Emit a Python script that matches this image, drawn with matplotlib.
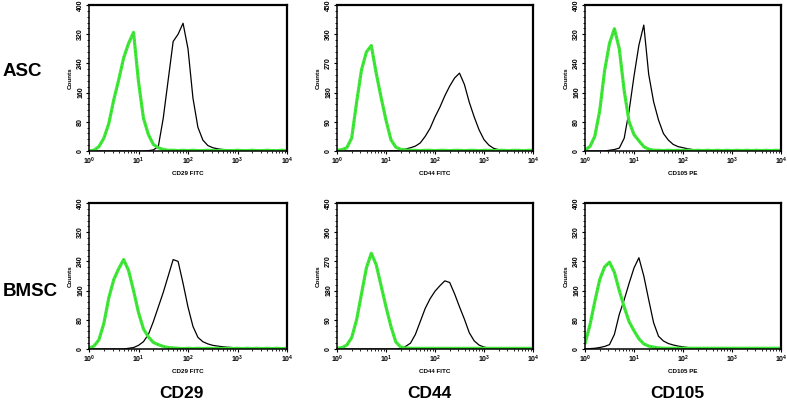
import matplotlib as mpl
mpl.use('Agg')
import matplotlib.pyplot as plt
import numpy as np
from matplotlib.ticker import AutoMinorLocator, LogLocator, NullFormatter

plt.rcParams['font.family'] = ['Liberation Sans', 'DejaVu Sans']

# bin grid, log10 of fluorescence (10^0 .. 10^4)
log_bins = np.round(np.arange(0, 4.01, 0.1), 1)

rows = ['ASC', 'BMSC']
markers = ['CD29', 'CD44', 'CD105']
xlabels = ['CD29 FITC', 'CD44 FITC', 'CD105 PE']
ymax = [400, 450, 400]
ystep = [80, 90, 80]

# isotype control (green) and stained (black) counts
asc_cd29_iso = [0, 2, 12, 35, 75, 140, 195, 255, 295, 325, 190, 90, 45, 18, 9, 4, 2, 2, 1, 2, 1,
                2, 1, 1, 2, 1, 1, 2, 1, 1, 2, 1, 1, 2, 1, 1, 2, 1, 1, 2, 1]
asc_cd29 = [0, 0, 0, 0, 0, 0, 0, 0, 0, 0, 0, 0, 1, 3, 12, 90, 195, 300, 320, 350, 280,
            145, 65, 30, 15, 9, 6, 4, 3, 2, 1, 2, 1, 1, 2, 1, 1, 2, 1, 1, 1]
asc_cd44_iso = [2, 4, 10, 40, 150, 250, 305, 325, 240, 165, 95, 35, 12, 5, 3, 2, 2, 1, 2, 2, 1,
                2, 2, 1, 2, 2, 1, 2, 2, 1, 2, 2, 1, 2, 2, 1, 2, 2, 1, 2, 2]
asc_cd44 = [0, 0, 0, 0, 0, 0, 0, 0, 0, 0, 0, 1, 1, 2, 6, 10, 15, 25, 45, 70, 105,
            135, 170, 200, 225, 240, 205, 150, 105, 65, 35, 18, 8, 4, 2, 1, 1, 1, 1, 1, 1]
asc_cd105_iso = [3, 12, 40, 110, 220, 295, 335, 280, 165, 80, 45, 28, 12, 5, 2, 2, 1, 2, 1, 2, 1,
                 2, 1, 2, 1, 2, 1, 2, 1, 2, 1, 2, 1, 2, 1, 2, 1, 2, 1, 2, 1]
asc_cd105 = [0, 0, 0, 0, 0, 2, 4, 8, 35, 110, 205, 290, 345, 210, 135, 85, 48, 30, 18, 12, 9,
             6, 4, 3, 2, 1, 1, 1, 1, 1, 1, 1, 1, 1, 1, 1, 1, 1, 1, 1, 1]

bmsc_cd29_iso = [2, 8, 25, 70, 140, 190, 220, 245, 215, 160, 100, 55, 33, 18, 12, 7, 4, 3, 2, 1, 2,
                 1, 2, 1, 2, 1, 2, 1, 2, 1, 2, 1, 2, 1, 2, 1, 2, 1, 2, 1, 2]
bmsc_cd29 = [0, 0, 0, 0, 0, 0, 0, 0, 2, 4, 10, 20, 40, 75, 115, 155, 200, 245, 240, 180, 115,
             62, 32, 20, 14, 10, 8, 6, 5, 4, 3, 2, 2, 2, 2, 2, 2, 2, 2, 2, 2]
bmsc_cd44_iso = [2, 4, 12, 35, 90, 170, 250, 295, 260, 195, 130, 70, 22, 6, 3, 2, 2, 2, 2, 2, 2,
                 2, 2, 2, 2, 2, 2, 2, 2, 2, 2, 2, 2, 2, 2, 2, 2, 2, 2, 2, 2]
bmsc_cd44 = [0, 0, 0, 0, 0, 0, 0, 0, 0, 0, 0, 0, 0, 2, 8, 18, 45, 85, 125, 155, 178,
             195, 210, 205, 170, 130, 92, 50, 25, 12, 6, 3, 1, 1, 1, 1, 1, 1, 1, 1, 1]
bmsc_cd105_iso = [15, 65, 130, 190, 225, 238, 210, 160, 115, 75, 50, 28, 14, 8, 5, 3, 2, 2, 2, 2, 2,
                  2, 2, 2, 2, 2, 2, 2, 2, 2, 2, 2, 2, 2, 2, 2, 2, 2, 2, 2, 2]
bmsc_cd105 = [0, 1, 2, 4, 7, 12, 40, 95, 135, 180, 222, 250, 200, 135, 72, 35, 22, 15, 11, 8, 6,
              4, 3, 3, 2, 1, 1, 1, 1, 1, 1, 1, 1, 1, 1, 1, 1, 1, 1, 1, 1]

iso_data = [[asc_cd29_iso, asc_cd44_iso, asc_cd105_iso],
            [bmsc_cd29_iso, bmsc_cd44_iso, bmsc_cd105_iso]]
stain_data = [[asc_cd29, asc_cd44, asc_cd105],
              [bmsc_cd29, bmsc_cd44, bmsc_cd105]]

GREEN = '#3ee836'


def draw_panel(ax, iso, stain, col):
    x = 10 ** log_bins
    ax.plot(x, stain, color='black', lw=0.9)
    ax.plot(x, iso, color=GREEN, lw=2.3, solid_capstyle='round')
    # the black isotype trace shows through in specks
    ax.plot(x, iso, color='#333333', lw=0.45, dashes=(1, 5), alpha=0.55)

    ax.set_xscale('log')
    ax.set_xlim(1, 1e4)
    ax.set_ylim(0, ymax[col])
    ax.set_yticks(np.arange(0, ymax[col] + 1, ystep[col]))
    ax.yaxis.set_minor_locator(AutoMinorLocator(5))
    ax.xaxis.set_major_locator(LogLocator(base=10, numticks=6))
    ax.xaxis.set_minor_locator(LogLocator(base=10, subs=np.arange(2, 10), numticks=20))
    ax.xaxis.set_minor_formatter(NullFormatter())

    ax.tick_params(which='major', direction='out', length=2.5, width=0.8, labelsize=5, pad=1)
    ax.tick_params(which='minor', direction='out', length=1.3, width=0.6)
    for lab in ax.get_yticklabels():
        lab.set_rotation(90)
        lab.set_va('center')
        lab.set_fontweight('bold')
    for lab in ax.get_xticklabels():
        lab.set_fontweight('bold')

    for side in ['left', 'bottom']:
        ax.spines[side].set_linewidth(1.1)
    for side in ['top', 'right']:
        ax.spines[side].set_linewidth(1.6)

    ax.set_ylabel('Counts', fontsize=4.5, fontweight='bold', labelpad=3)
    ax.set_xlabel(xlabels[col], fontsize=4.5, fontweight='bold', labelpad=3)


fig = plt.figure(figsize=(7.87, 4.01), dpi=100)

# panel boxes in pixels (left, right) / (top, bottom)
col_px = [(89, 287), (337, 533), (585, 781)]
row_px = [(5, 151), (203, 349)]
W, H = 787.0, 401.0

for r in range(2):
    for c in range(3):
        l, rr = col_px[c]
        t, b = row_px[r]
        ax = fig.add_axes([l / W, 1 - b / H, (rr - l) / W, (b - t) / H])
        draw_panel(ax, iso_data[r][c], stain_data[r][c], c)

# row / column captions
fig.text(3 / W, 1 - 71 / H, rows[0], fontsize=13.5, fontweight='bold', ha='left', va='center')
fig.text(3 / W, 1 - 292 / H, rows[1], fontsize=13.5, fontweight='bold', ha='left', va='center')
for c, name in enumerate(markers):
    cx = [181, 429, 677][c]
    fig.text(cx / W, 1 - 393 / H, name, fontsize=12.5, fontweight='bold', ha='center', va='center')

fig.savefig('out.png', dpi=100)
